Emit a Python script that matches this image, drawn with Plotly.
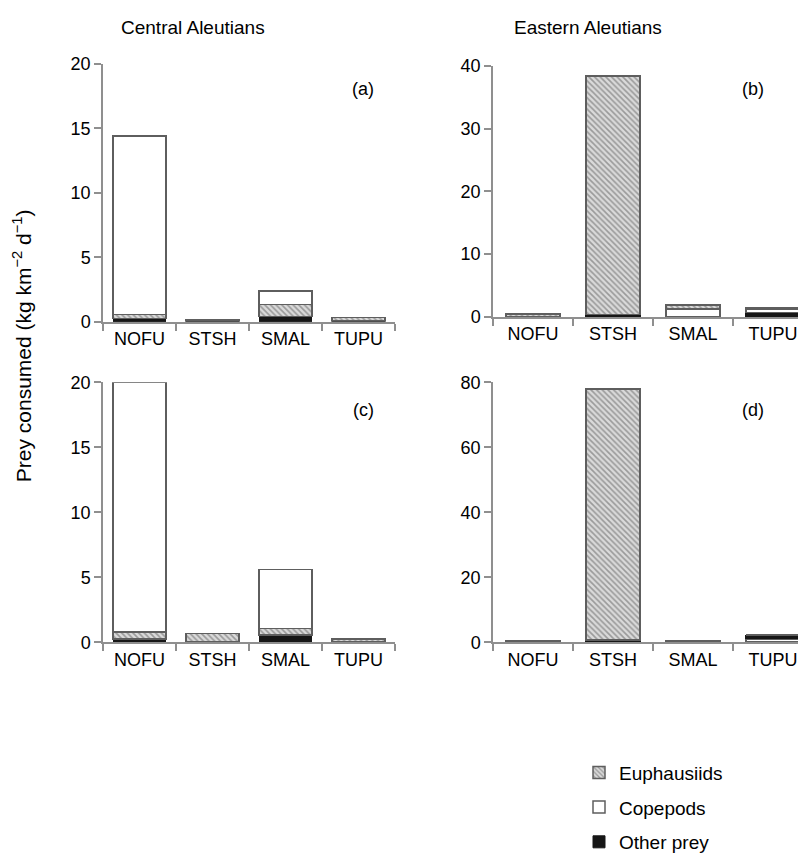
import plotly.graph_objects as go

W, H = 806, 864

categories = ["NOFU", "STSH", "SMAL", "TUPU"]
series_names = ["Other prey", "Euphausiids", "Copepods"]

# (a) Central Aleutians, upper
a_other = [0.25, 0.05, 0.40, 0.05]
a_euph = [0.30, 0.08, 0.95, 0.30]
a_cope = [13.85, 0.00, 1.05, 0.00]
# (b) Eastern Aleutians, upper
b_other = [0.00, 0.40, 0.05, 0.70]
b_euph = [0.50, 38.00, 0.60, 0.10]
b_cope = [0.00, 0.00, 1.25, 0.60]
# (c) Central Aleutians, lower
c_other = [0.25, 0.02, 0.55, 0.03]
c_euph = [0.55, 0.65, 0.50, 0.20]
c_cope = [19.20, 0.00, 4.55, 0.05]
# (d) Eastern Aleutians, lower
d_other = [0.10, 0.70, 0.05, 1.20]
d_euph = [0.40, 77.30, 0.45, 0.00]
d_cope = [0.00, 0.00, 0.00, 1.00]

y_ranges = [20, 40, 20, 80]
y_dticks = [5, 10, 5, 20]
panel_letters = ["(a)", "(b)", "(c)", "(d)"]
col_titles = ["Central Aleutians", "Eastern Aleutians"]

panels = [
    {"Other prey": a_other, "Euphausiids": a_euph, "Copepods": a_cope},
    {"Other prey": b_other, "Euphausiids": b_euph, "Copepods": b_cope},
    {"Other prey": c_other, "Euphausiids": c_euph, "Copepods": c_cope},
    {"Other prey": d_other, "Euphausiids": d_euph, "Copepods": d_cope},
]
stack_orders = [
    ["Other prey", "Euphausiids", "Copepods"],
    ["Other prey", "Copepods", "Euphausiids"],
    ["Other prey", "Euphausiids", "Copepods"],
    ["Copepods", "Other prey", "Euphausiids"],
]

FONT = "Liberation Sans, Arial, Helvetica, sans-serif"
AXIS_COL = "#8f8f8f"
EDGE = "#5e5e5e"

styles = {
    "Euphausiids": dict(color="#d0d0d0", line=dict(color=EDGE, width=1.5),
                        pattern=dict(shape="\\", fgcolor="#5a5a5a", bgcolor="#dadada",
                                     size=4, solidity=0.4)),
    "Copepods": dict(color="white", line=dict(color=EDGE, width=1.5)),
    "Other prey": dict(color="#161616", line=dict(color="#161616", width=1.0)),
}
legend_rank = {"Euphausiids": 1, "Copepods": 2, "Other prey": 3}

# pixel layout of the plot areas: (x0, x1, ytop, ybottom)
boxes = [
    (95, 387, 47, 311),
    (485, 805, 49, 306),
    (95, 387, 373, 639),
    (485, 805, 373, 639),
]
bar_widths = [0.72, 0.68, 0.72, 0.68]

def px_x(v):
    return v / W

def px_y(v):
    return 1 - v / H

fig = go.Figure()
layout = dict(
    width=W, height=H,
    margin=dict(l=0, r=0, t=0, b=0),
    paper_bgcolor="white", plot_bgcolor="white",
    barmode="stack",
    font=dict(family=FONT, size=18, color="black"),
    showlegend=True,
    legend=dict(x=px_x(571), y=px_y(753), xanchor="left", yanchor="top",
                font=dict(size=19, family=FONT, color="black"),
                tracegroupgap=7, itemwidth=30, bgcolor="rgba(0,0,0,0)"),
)

for i, (data, order) in enumerate(zip(panels, stack_orders)):
    n = i + 1
    xa = "x" if n == 1 else f"x{n}"
    ya = "y" if n == 1 else f"y{n}"
    for name in order:
        fig.add_trace(go.Bar(
            x=categories, y=data[name], name=name,
            xaxis=xa, yaxis=ya,
            marker=styles[name], legendgroup=name,
            legendrank=legend_rank[name],
            showlegend=(i == 0),
            width=bar_widths[i],
        ))
    x0, x1, yt, yb = boxes[i]
    xkey = "xaxis" if n == 1 else f"xaxis{n}"
    ykey = "yaxis" if n == 1 else f"yaxis{n}"
    layout[xkey] = dict(
        domain=[px_x(x0), px_x(x1)], anchor=ya,
        type="category", range=[-0.5, 3.5],
        showline=True, linecolor=AXIS_COL, linewidth=1.5,
        ticks="outside", tickson="boundaries", ticklen=7, tickcolor=AXIS_COL,
        tickwidth=1.5, showgrid=False, zeroline=False,
        tickfont=dict(size=18, family=FONT, color="black"),
    )
    layout[ykey] = dict(
        domain=[px_y(yb), px_y(yt)], anchor=xa,
        range=[0, y_ranges[i]], dtick=y_dticks[i], tick0=0,
        showline=True, linecolor=AXIS_COL, linewidth=1.5,
        ticks="outside", ticklen=7, tickcolor=AXIS_COL, tickwidth=1.5,
        showgrid=False, zeroline=False,
        tickfont=dict(size=18, family=FONT, color="black"),
    )

annotations = []
# column titles
for title, cx in zip(col_titles, [185, 580]):
    annotations.append(dict(text=title, x=px_x(cx), y=px_y(10), xref="paper", yref="paper",
                            showarrow=False, font=dict(size=19, family=FONT, color="black"),
                            xanchor="center", yanchor="middle"))
# panel letters
for letter, (lx, ly) in zip(panel_letters, [(355, 73), (745, 73), (355, 401), (745, 401)]):
    annotations.append(dict(text=letter, x=px_x(lx), y=px_y(ly), xref="paper", yref="paper",
                            showarrow=False, font=dict(size=18, family=FONT, color="black"),
                            xanchor="center", yanchor="middle"))
# y-axis title
annotations.append(dict(text="Prey consumed (kg km<sup>\u22122</sup> d<sup>\u22121</sup>)",
                        x=px_x(14), y=px_y(336), xref="paper", yref="paper",
                        showarrow=False, textangle=-90,
                        font=dict(size=21, family=FONT, color="black"),
                        xanchor="center", yanchor="middle"))
layout["annotations"] = annotations

fig.update_layout(**layout)
fig.write_html("out.html")
